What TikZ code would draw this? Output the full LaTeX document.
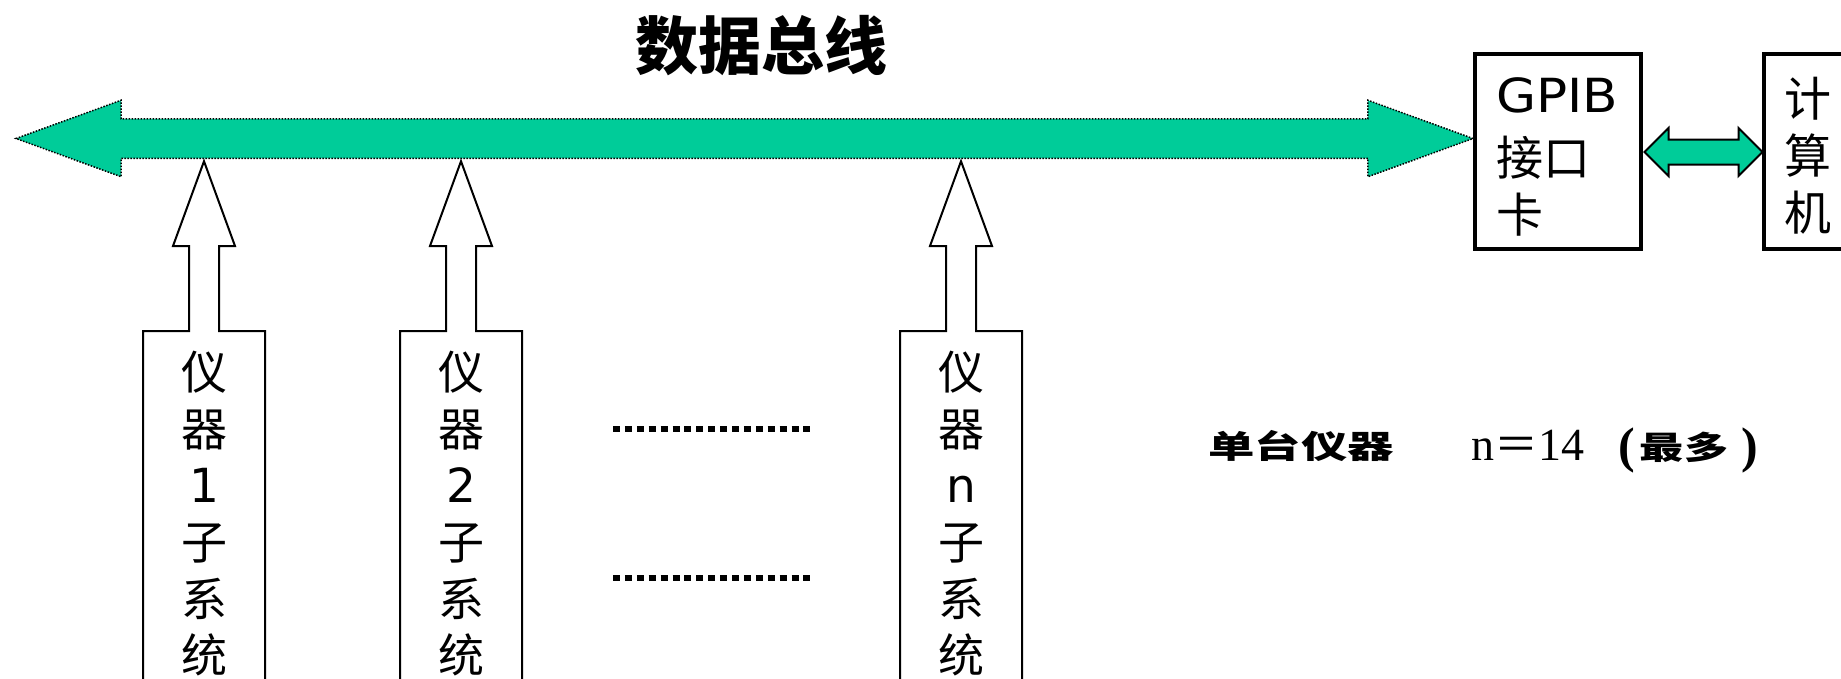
\documentclass[tikz,border=0pt]{standalone}
\usepackage{fontspec}
\usepackage{graphicx}
\usetikzlibrary{shapes.arrows,calc}
\newfontfamily\cjk{Noto Sans CJK SC}
\newfontfamily\verd{DejaVu Sans}
\newfontfamily\tms{Liberation Serif}
\definecolor{busgreen}{RGB}{0,204,153}
\newcommand{\myinstr}[3]{%
  \node[ibox] (#1) at (#2,331) {};
  \node[itext] (#1t) at (#2,351) {仪\\器\\{\verd\fontsize{47}{47}\selectfont #3}\\子\\系\\统};
  \draw[iline] (#1.south west) -- (#1.north west) -- ($(#1.north)+(-15,0)$) -- ($(#1.north)+(-15,-85)$)
    -- ($(#1.north)+(-31,-85)$) -- ($(#1.north |- bus.south)+(0,3)$) -- ($(#1.north)+(31,-85)$)
    -- ($(#1.north)+(15,-85)$) -- ($(#1.north)+(15,0)$) -- (#1.north east) -- (#1.south east);
}
\begin{document}
\begin{tikzpicture}[x=1pt,y=-1pt,
  busarrow/.style={double arrow, fill=busgreen, draw=black, line width=1.5pt,
    dash pattern=on 1.5pt off 1.5pt, inner xsep=0pt, inner ysep=19pt, outer sep=0pt,
    minimum height=1457pt, minimum width=75pt,
    double arrow head extend=18.5pt, double arrow tip angle=40},
  linkarrow/.style={double arrow, fill=busgreen, draw=black, line width=2pt,
    inner xsep=0pt, inner ysep=11.5pt, outer sep=0pt, minimum height=118pt, minimum width=46pt,
    double arrow head extend=11.5pt, double arrow tip angle=90},
  ibox/.style={anchor=north, minimum width=122pt, minimum height=400pt, inner sep=0pt, outer sep=0pt},
  itext/.style={anchor=north, inner sep=0pt, align=center, font=\cjk\fontsize{46}{56.6}\selectfont},
  iline/.style={draw=black, line width=2pt, line join=miter},
  boxnode/.style={draw=black, line width=4pt, inner sep=0pt, minimum height=195pt},
  boxtext/.style={inner sep=0pt, font=\cjk\fontsize{47}{57}\selectfont},
  dotline/.style={line width=6pt, dash pattern=on 7pt off 4.9pt},
  paren/.style={inner sep=0pt, font=\tms\bfseries\fontsize{50}{50}\selectfont}
]
\useasboundingbox (0,0) rectangle (1841,678);
\clip (0,0) rectangle (1841,678);
\fill[white] (0,0) rectangle (1841,678);

% title
\node[inner sep=0pt, font=\cjk\bfseries\fontsize{63}{63}\selectfont] (title) at (761,46) {数据总线};

% GPIB card and computer
\node[boxnode, minimum width=166pt] (gpib) at (1558,151.5) {};
\node[boxtext, anchor=north west, align=left] (gpibt) at (1496,77)
  {{\verd\scalebox{1.1}[1]{GPIB}}\\[6pt]接口\\卡};
\node[boxnode, minimum width=200pt, anchor=west] (pc) at (1762,151.5) {};
\node[boxtext, anchor=north, align=center] (pct) at (1807.5,77) {计\\算\\机};

% bus
\node[busarrow] (bus) at (744.5,138.5) {};
\node[linkarrow] (lnk) at ($(gpib.east)!0.5!(pc.west)+(1,0.5)$) {};

% instruments
\myinstr{i1}{204}{1}
\myinstr{i2}{461}{2}
\myinstr{in}{961}{n}

% dots
\coordinate (d1a) at (613,429); \coordinate (d1b) at (812,429);
\coordinate (d2a) at (613,578); \coordinate (d2b) at (812,578);
\draw[dotline] (d1a) -- (d1b);
\draw[dotline] (d2a) -- (d2b);

% note
\node[inner sep=0pt, anchor=base west] (single) at (1208,458)
  {\scalebox{1.45}[1]{\cjk\bfseries\fontsize{32}{32}\selectfont 单台仪器}};
\node[inner sep=0pt, anchor=base west] (neq) at (1471,460)
  {{\tms\fontsize{46}{46}\selectfont n}{\cjk\fontsize{44}{44}\selectfont ＝}{\tms\fontsize{46}{46}\selectfont 14}};
\node[paren] (lp) at (1627,450) {(};
\node[inner sep=0pt] (most) at (1684,447)
  {\scalebox{1.38}[1]{\cjk\bfseries\fontsize{32}{32}\selectfont 最多}};
\node[paren] (rp) at (1750,450) {)};
\end{tikzpicture}
\end{document}
